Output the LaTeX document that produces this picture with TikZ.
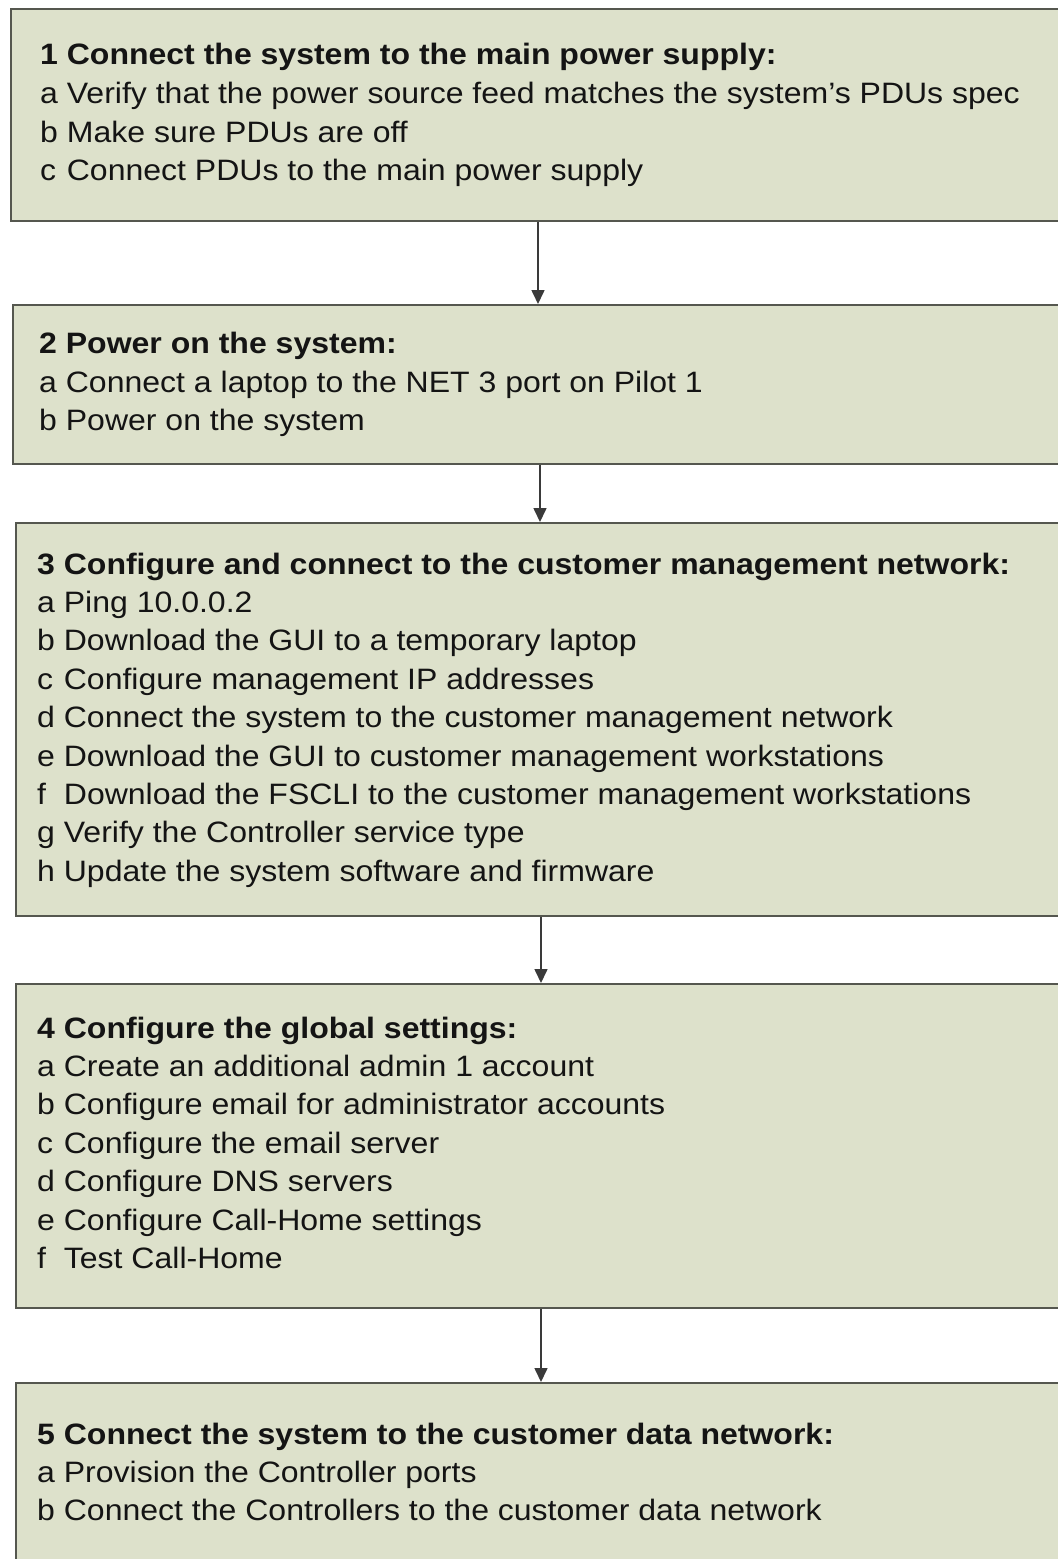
\documentclass[tikz,border=0pt]{standalone}
\usepackage{fontspec}
\usepackage{calc}
\setmainfont[FakeStretch=1.085]{Liberation Sans}
\usetikzlibrary{arrows.meta}
\definecolor{boxfill}{HTML}{DDE1CB}
\definecolor{boxline}{HTML}{55574F}
\definecolor{arrline}{HTML}{3A3A3A}
\newcommand\itm[1]{\makebox[\widthof{a\ }][l]{#1}}
\tikzset{
  stepbox/.style={draw=boxline, line width=2pt, fill=boxfill, anchor=north west, inner sep=0pt},
  steptext/.style={anchor=base west, inner sep=0pt, text=black!92,
    font=\fontsize{29.5}{38.4}\selectfont},
  arr/.style={draw=arrline, line width=1.6pt, -{Triangle[width=13pt,length=14pt]}}
}
\begin{document}
\begin{tikzpicture}[x=1pt,y=-1pt]
\useasboundingbox (0,0) rectangle (1058,1559);
\clip (0,0) rectangle (1058,1559);
% boxes
\node[stepbox, minimum width=1070pt, minimum height=212pt] (b1) at (10,8) {};
\node[stepbox, minimum width=1070pt, minimum height=159pt] (b2) at (12,304) {};
\node[stepbox, minimum width=1070pt, minimum height=393pt] (b3) at (15,522) {};
\node[stepbox, minimum width=1070pt, minimum height=324pt] (b4) at (15,983) {};
\node[stepbox, minimum width=1070pt, minimum height=220pt] (b5) at (15,1382) {};
% texts
\node[steptext] (t1) at (40,64) {\begin{tabular}[t]{@{}l@{}}
\textbf{\itm{1}Connect the system to the main power supply:}\\[1.5pt]
\itm{a}Verify that the power source feed matches the system’s PDUs spec\\
\itm{b}Make sure PDUs are off\\
\itm{c}Connect PDUs to the main power supply
\end{tabular}};
\node[steptext] (t2) at (39,353) {\begin{tabular}[t]{@{}l@{}}
\textbf{\itm{2}Power on the system:}\\[1pt]
\itm{a}Connect a laptop to the NET 3 port on Pilot 1\\
\itm{b}Power on the system
\end{tabular}};
\node[steptext] (t3) at (37,574) {\begin{tabular}[t]{@{}l@{}}
\textbf{\itm{3}Configure and connect to the customer management network:}\\
\itm{a}Ping 10.0.0.2\\
\itm{b}Download the GUI to a temporary laptop\\
\itm{c}Configure management IP addresses\\
\itm{d}Connect the system to the customer management network\\
\itm{e}Download the GUI to customer management workstations\\
\itm{f}Download the FSCLI to the customer management workstations\\
\itm{g}Verify the Controller service type\\
\itm{h}Update the system software and firmware
\end{tabular}};
\node[steptext] (t4) at (37,1038) {\begin{tabular}[t]{@{}l@{}}
\textbf{\itm{4}Configure the global settings:}\\
\itm{a}Create an additional admin 1 account\\
\itm{b}Configure email for administrator accounts\\
\itm{c}Configure the email server\\
\itm{d}Configure DNS servers\\
\itm{e}Configure Call-Home settings\\
\itm{f}Test Call-Home
\end{tabular}};
\node[steptext] (t5) at (37,1444) {\begin{tabular}[t]{@{}l@{}}
\textbf{\itm{5}Connect the system to the customer data network:}\\
\itm{a}Provision the Controller ports\\
\itm{b}Connect the Controllers to the customer data network
\end{tabular}};
% connectors
\draw[arr] (b1.south -| 538,0) -- (b2.north -| 538,0);
\draw[arr] (b2.south -| 540,0) -- (b3.north -| 540,0);
\draw[arr] (b3.south -| 541,0) -- (b4.north -| 541,0);
\draw[arr] (b4.south -| 541,0) -- (b5.north -| 541,0);
\end{tikzpicture}
\end{document}
